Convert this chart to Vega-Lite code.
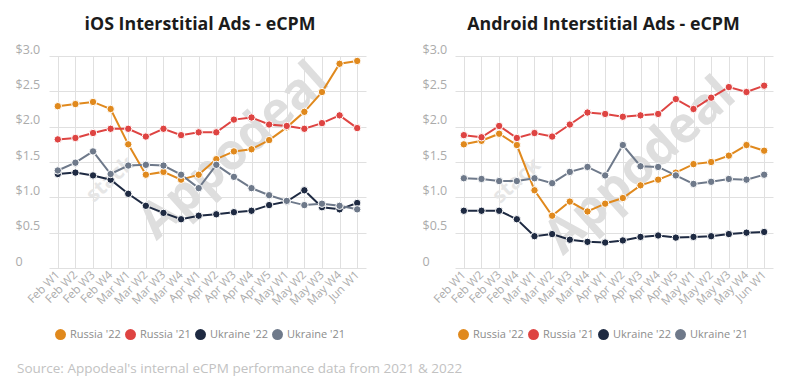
{
  "$schema": "https://vega.github.io/schema/vega-lite/v6.json",
  "background": "white",
  "padding": {"left": 15, "top": 16, "right": 10, "bottom": 6},
  "data": {"values": [
    {"platform":"iOS","series":"Russia '22","week":"Feb W1","value":2.29},
    {"platform":"iOS","series":"Russia '22","week":"Feb W2","value":2.32},
    {"platform":"iOS","series":"Russia '22","week":"Feb W3","value":2.35},
    {"platform":"iOS","series":"Russia '22","week":"Feb W4","value":2.25},
    {"platform":"iOS","series":"Russia '22","week":"Mar W1","value":1.75},
    {"platform":"iOS","series":"Russia '22","week":"Mar W2","value":1.32},
    {"platform":"iOS","series":"Russia '22","week":"Mar W3","value":1.36},
    {"platform":"iOS","series":"Russia '22","week":"Mar W4","value":1.25},
    {"platform":"iOS","series":"Russia '22","week":"Apr W1","value":1.32},
    {"platform":"iOS","series":"Russia '22","week":"Apr W2","value":1.54},
    {"platform":"iOS","series":"Russia '22","week":"Apr W3","value":1.65},
    {"platform":"iOS","series":"Russia '22","week":"Apr W4","value":1.68},
    {"platform":"iOS","series":"Russia '22","week":"Apr W5","value":1.81},
    {"platform":"iOS","series":"Russia '22","week":"May W1","value":1.99},
    {"platform":"iOS","series":"Russia '22","week":"May W2","value":2.21},
    {"platform":"iOS","series":"Russia '22","week":"May W3","value":2.49},
    {"platform":"iOS","series":"Russia '22","week":"May W4","value":2.89},
    {"platform":"iOS","series":"Russia '22","week":"Jun W1","value":2.93},
    {"platform":"iOS","series":"Russia '21","week":"Feb W1","value":1.82},
    {"platform":"iOS","series":"Russia '21","week":"Feb W2","value":1.84},
    {"platform":"iOS","series":"Russia '21","week":"Feb W3","value":1.91},
    {"platform":"iOS","series":"Russia '21","week":"Feb W4","value":1.97},
    {"platform":"iOS","series":"Russia '21","week":"Mar W1","value":1.97},
    {"platform":"iOS","series":"Russia '21","week":"Mar W2","value":1.86},
    {"platform":"iOS","series":"Russia '21","week":"Mar W3","value":1.97},
    {"platform":"iOS","series":"Russia '21","week":"Mar W4","value":1.88},
    {"platform":"iOS","series":"Russia '21","week":"Apr W1","value":1.92},
    {"platform":"iOS","series":"Russia '21","week":"Apr W2","value":1.92},
    {"platform":"iOS","series":"Russia '21","week":"Apr W3","value":2.10},
    {"platform":"iOS","series":"Russia '21","week":"Apr W4","value":2.13},
    {"platform":"iOS","series":"Russia '21","week":"Apr W5","value":2.03},
    {"platform":"iOS","series":"Russia '21","week":"May W1","value":2.01},
    {"platform":"iOS","series":"Russia '21","week":"May W2","value":1.97},
    {"platform":"iOS","series":"Russia '21","week":"May W3","value":2.05},
    {"platform":"iOS","series":"Russia '21","week":"May W4","value":2.16},
    {"platform":"iOS","series":"Russia '21","week":"Jun W1","value":1.98},
    {"platform":"iOS","series":"Ukraine '22","week":"Feb W1","value":1.33},
    {"platform":"iOS","series":"Ukraine '22","week":"Feb W2","value":1.35},
    {"platform":"iOS","series":"Ukraine '22","week":"Feb W3","value":1.31},
    {"platform":"iOS","series":"Ukraine '22","week":"Feb W4","value":1.25},
    {"platform":"iOS","series":"Ukraine '22","week":"Mar W1","value":1.05},
    {"platform":"iOS","series":"Ukraine '22","week":"Mar W2","value":0.88},
    {"platform":"iOS","series":"Ukraine '22","week":"Mar W3","value":0.78},
    {"platform":"iOS","series":"Ukraine '22","week":"Mar W4","value":0.69},
    {"platform":"iOS","series":"Ukraine '22","week":"Apr W1","value":0.74},
    {"platform":"iOS","series":"Ukraine '22","week":"Apr W2","value":0.76},
    {"platform":"iOS","series":"Ukraine '22","week":"Apr W3","value":0.79},
    {"platform":"iOS","series":"Ukraine '22","week":"Apr W4","value":0.81},
    {"platform":"iOS","series":"Ukraine '22","week":"Apr W5","value":0.89},
    {"platform":"iOS","series":"Ukraine '22","week":"May W1","value":0.94},
    {"platform":"iOS","series":"Ukraine '22","week":"May W2","value":1.10},
    {"platform":"iOS","series":"Ukraine '22","week":"May W3","value":0.86},
    {"platform":"iOS","series":"Ukraine '22","week":"May W4","value":0.83},
    {"platform":"iOS","series":"Ukraine '22","week":"Jun W1","value":0.92},
    {"platform":"iOS","series":"Ukraine '21","week":"Feb W1","value":1.38},
    {"platform":"iOS","series":"Ukraine '21","week":"Feb W2","value":1.49},
    {"platform":"iOS","series":"Ukraine '21","week":"Feb W3","value":1.65},
    {"platform":"iOS","series":"Ukraine '21","week":"Feb W4","value":1.33},
    {"platform":"iOS","series":"Ukraine '21","week":"Mar W1","value":1.45},
    {"platform":"iOS","series":"Ukraine '21","week":"Mar W2","value":1.46},
    {"platform":"iOS","series":"Ukraine '21","week":"Mar W3","value":1.45},
    {"platform":"iOS","series":"Ukraine '21","week":"Mar W4","value":1.32},
    {"platform":"iOS","series":"Ukraine '21","week":"Apr W1","value":1.13},
    {"platform":"iOS","series":"Ukraine '21","week":"Apr W2","value":1.46},
    {"platform":"iOS","series":"Ukraine '21","week":"Apr W3","value":1.29},
    {"platform":"iOS","series":"Ukraine '21","week":"Apr W4","value":1.13},
    {"platform":"iOS","series":"Ukraine '21","week":"Apr W5","value":1.03},
    {"platform":"iOS","series":"Ukraine '21","week":"May W1","value":0.95},
    {"platform":"iOS","series":"Ukraine '21","week":"May W2","value":0.89},
    {"platform":"iOS","series":"Ukraine '21","week":"May W3","value":0.91},
    {"platform":"iOS","series":"Ukraine '21","week":"May W4","value":0.88},
    {"platform":"iOS","series":"Ukraine '21","week":"Jun W1","value":0.83},
    {"platform":"Android","series":"Russia '22","week":"Feb W1","value":1.75},
    {"platform":"Android","series":"Russia '22","week":"Feb W2","value":1.80},
    {"platform":"Android","series":"Russia '22","week":"Feb W3","value":1.90},
    {"platform":"Android","series":"Russia '22","week":"Feb W4","value":1.74},
    {"platform":"Android","series":"Russia '22","week":"Mar W1","value":1.10},
    {"platform":"Android","series":"Russia '22","week":"Mar W2","value":0.74},
    {"platform":"Android","series":"Russia '22","week":"Mar W3","value":0.94},
    {"platform":"Android","series":"Russia '22","week":"Mar W4","value":0.80},
    {"platform":"Android","series":"Russia '22","week":"Apr W1","value":0.91},
    {"platform":"Android","series":"Russia '22","week":"Apr W2","value":0.99},
    {"platform":"Android","series":"Russia '22","week":"Apr W3","value":1.17},
    {"platform":"Android","series":"Russia '22","week":"Apr W4","value":1.25},
    {"platform":"Android","series":"Russia '22","week":"Apr W5","value":1.35},
    {"platform":"Android","series":"Russia '22","week":"May W1","value":1.47},
    {"platform":"Android","series":"Russia '22","week":"May W2","value":1.50},
    {"platform":"Android","series":"Russia '22","week":"May W3","value":1.59},
    {"platform":"Android","series":"Russia '22","week":"May W4","value":1.74},
    {"platform":"Android","series":"Russia '22","week":"Jun W1","value":1.66},
    {"platform":"Android","series":"Russia '21","week":"Feb W1","value":1.88},
    {"platform":"Android","series":"Russia '21","week":"Feb W2","value":1.85},
    {"platform":"Android","series":"Russia '21","week":"Feb W3","value":2.01},
    {"platform":"Android","series":"Russia '21","week":"Feb W4","value":1.84},
    {"platform":"Android","series":"Russia '21","week":"Mar W1","value":1.91},
    {"platform":"Android","series":"Russia '21","week":"Mar W2","value":1.86},
    {"platform":"Android","series":"Russia '21","week":"Mar W3","value":2.03},
    {"platform":"Android","series":"Russia '21","week":"Mar W4","value":2.20},
    {"platform":"Android","series":"Russia '21","week":"Apr W1","value":2.18},
    {"platform":"Android","series":"Russia '21","week":"Apr W2","value":2.14},
    {"platform":"Android","series":"Russia '21","week":"Apr W3","value":2.16},
    {"platform":"Android","series":"Russia '21","week":"Apr W4","value":2.18},
    {"platform":"Android","series":"Russia '21","week":"Apr W5","value":2.39},
    {"platform":"Android","series":"Russia '21","week":"May W1","value":2.25},
    {"platform":"Android","series":"Russia '21","week":"May W2","value":2.41},
    {"platform":"Android","series":"Russia '21","week":"May W3","value":2.56},
    {"platform":"Android","series":"Russia '21","week":"May W4","value":2.49},
    {"platform":"Android","series":"Russia '21","week":"Jun W1","value":2.58},
    {"platform":"Android","series":"Ukraine '22","week":"Feb W1","value":0.81},
    {"platform":"Android","series":"Ukraine '22","week":"Feb W2","value":0.81},
    {"platform":"Android","series":"Ukraine '22","week":"Feb W3","value":0.81},
    {"platform":"Android","series":"Ukraine '22","week":"Feb W4","value":0.69},
    {"platform":"Android","series":"Ukraine '22","week":"Mar W1","value":0.45},
    {"platform":"Android","series":"Ukraine '22","week":"Mar W2","value":0.48},
    {"platform":"Android","series":"Ukraine '22","week":"Mar W3","value":0.40},
    {"platform":"Android","series":"Ukraine '22","week":"Mar W4","value":0.37},
    {"platform":"Android","series":"Ukraine '22","week":"Apr W1","value":0.36},
    {"platform":"Android","series":"Ukraine '22","week":"Apr W2","value":0.39},
    {"platform":"Android","series":"Ukraine '22","week":"Apr W3","value":0.44},
    {"platform":"Android","series":"Ukraine '22","week":"Apr W4","value":0.46},
    {"platform":"Android","series":"Ukraine '22","week":"Apr W5","value":0.43},
    {"platform":"Android","series":"Ukraine '22","week":"May W1","value":0.44},
    {"platform":"Android","series":"Ukraine '22","week":"May W2","value":0.45},
    {"platform":"Android","series":"Ukraine '22","week":"May W3","value":0.48},
    {"platform":"Android","series":"Ukraine '22","week":"May W4","value":0.50},
    {"platform":"Android","series":"Ukraine '22","week":"Jun W1","value":0.51},
    {"platform":"Android","series":"Ukraine '21","week":"Feb W1","value":1.27},
    {"platform":"Android","series":"Ukraine '21","week":"Feb W2","value":1.26},
    {"platform":"Android","series":"Ukraine '21","week":"Feb W3","value":1.23},
    {"platform":"Android","series":"Ukraine '21","week":"Feb W4","value":1.23},
    {"platform":"Android","series":"Ukraine '21","week":"Mar W1","value":1.27},
    {"platform":"Android","series":"Ukraine '21","week":"Mar W2","value":1.20},
    {"platform":"Android","series":"Ukraine '21","week":"Mar W3","value":1.36},
    {"platform":"Android","series":"Ukraine '21","week":"Mar W4","value":1.43},
    {"platform":"Android","series":"Ukraine '21","week":"Apr W1","value":1.31},
    {"platform":"Android","series":"Ukraine '21","week":"Apr W2","value":1.74},
    {"platform":"Android","series":"Ukraine '21","week":"Apr W3","value":1.44},
    {"platform":"Android","series":"Ukraine '21","week":"Apr W4","value":1.43},
    {"platform":"Android","series":"Ukraine '21","week":"Apr W5","value":1.31},
    {"platform":"Android","series":"Ukraine '21","week":"May W1","value":1.19},
    {"platform":"Android","series":"Ukraine '21","week":"May W2","value":1.22},
    {"platform":"Android","series":"Ukraine '21","week":"May W3","value":1.26},
    {"platform":"Android","series":"Ukraine '21","week":"May W4","value":1.25},
    {"platform":"Android","series":"Ukraine '21","week":"Jun W1","value":1.32}
  ]},
  "title": {
    "text": "Source: Appodeal's internal eCPM performance data from 2021 & 2022",
    "orient": "bottom", "anchor": "start", "frame": "bounds",
    "fontSize": 13.5, "fontWeight": "normal", "color": "#c2c2c2", "offset": 22, "dx": 2
  },
  "spacing": 47,
  "resolve": {"scale": {"color": "independent"}, "legend": {"color": "independent"}},
  "hconcat": [
    {
      "width": 360, "height": 212,
      "title": {"text": "iOS Interstitial Ads - eCPM", "frame": "group", "dx": 5},
      "encoding": {
        "x": {"field": "week", "type": "ordinal",
          "scale": {"type": "point", "domain": ["Feb W1","Feb W2","Feb W3","Feb W4","Mar W1","Mar W2","Mar W3","Mar W4","Apr W1","Apr W2","Apr W3","Apr W4","Apr W5","May W1","May W2","May W3","May W4","Jun W1"], "range": [34, 351]},
          "axis": {"title": null, "grid": true, "labelAngle": -45, "labelAlign": "right", "labelBaseline": "middle", "labelPadding": 5}},
        "y": {"field": "value", "type": "quantitative",
          "scale": {"domain": [0, 3], "nice": false},
          "axis": {"title": null, "grid": true, "values": [0, 0.5, 1, 1.5, 2, 2.5, 3], "labelExpr": "datum.value == 0 ? '0' : '$' + format(datum.value, '.1f')", "labelAlign": "left", "labelBaseline": "alphabetic", "labelOffset": -3, "labelPadding": 0, "minExtent": 0}}
      },
      "layer": [
        {"transform": [{"filter": "datum.platform == 'iOS' && datum.series == \"Russia '22\" && datum.week == 'Apr W3'"}],
         "mark": {"type": "text", "text": "Appodeal", "angle": -42, "fontSize": 50, "fontWeight": "bold", "fill": "#dedede", "align": "center", "baseline": "middle"}},
        {"transform": [{"filter": "datum.platform == 'iOS' && datum.series == \"Ukraine '22\" && datum.week == 'Feb W4'"}],
         "mark": {"type": "text", "text": "stack", "angle": -42, "fontSize": 21, "fontWeight": "bold", "fill": "#e6e6e6", "align": "center", "baseline": "middle"}},
        {"transform": [{"filter": "datum.platform == 'iOS'"}],
         "mark": {"type": "line", "strokeWidth": 2},
         "encoding": {"color": {"field": "series", "type": "nominal",
          "scale": {"domain": ["Russia '22","Russia '21","Ukraine '22","Ukraine '21"], "range": ["#E0891D","#DE4442","#1E2A42","#6E798A"]},
          "legend": {"orient": "none", "legendX": 40, "legendY": 273, "direction": "horizontal", "title": null, "symbolType": "circle", "symbolSize": 120, "symbolStrokeWidth": 0, "labelFontSize": 11, "labelColor": "#8c8c8c", "columnPadding": 4, "labelOffset": 4}}}},
        {"transform": [{"filter": "datum.platform == 'iOS'"}],
         "mark": {"type": "point", "filled": true, "size": 55, "opacity": 1, "stroke": "white", "strokeWidth": 1},
         "encoding": {"color": {"field": "series", "type": "nominal"}}}
      ]
    },
    {
      "width": 361, "height": 212,
      "title": {"text": "Android Interstitial Ads - eCPM", "frame": "group", "dx": 1},
      "encoding": {
        "x": {"field": "week", "type": "ordinal",
          "scale": {"type": "point", "domain": ["Feb W1","Feb W2","Feb W3","Feb W4","Mar W1","Mar W2","Mar W3","Mar W4","Apr W1","Apr W2","Apr W3","Apr W4","Apr W5","May W1","May W2","May W3","May W4","Jun W1"], "range": [33, 351]},
          "axis": {"title": null, "grid": true, "labelAngle": -45, "labelAlign": "right", "labelBaseline": "middle", "labelPadding": 5}},
        "y": {"field": "value", "type": "quantitative",
          "scale": {"domain": [0, 3], "nice": false},
          "axis": {"title": null, "grid": true, "values": [0, 0.5, 1, 1.5, 2, 2.5, 3], "labelExpr": "datum.value == 0 ? '0' : '$' + format(datum.value, '.1f')", "labelAlign": "left", "labelBaseline": "alphabetic", "labelOffset": -3, "labelPadding": 0, "minExtent": 0}}
      },
      "layer": [
        {"transform": [{"filter": "datum.platform == 'Android' && datum.series == \"Ukraine '21\" && datum.week == 'Apr W3'"}],
         "mark": {"type": "text", "text": "Appodeal", "angle": -42, "fontSize": 50, "fontWeight": "bold", "fill": "#dedede", "align": "center", "baseline": "middle"}},
        {"transform": [{"filter": "datum.platform == 'Android' && datum.series == \"Ukraine '21\" && datum.week == 'Feb W4'"}],
         "mark": {"type": "text", "text": "stack", "angle": -42, "fontSize": 21, "fontWeight": "bold", "fill": "#e6e6e6", "align": "center", "baseline": "middle"}},
        {"transform": [{"filter": "datum.platform == 'Android'"}],
         "mark": {"type": "line", "strokeWidth": 2},
         "encoding": {"color": {"field": "series", "type": "nominal",
          "scale": {"domain": ["Russia '22","Russia '21","Ukraine '22","Ukraine '21"], "range": ["#E0891D","#DE4442","#1E2A42","#6E798A"]},
          "legend": {"orient": "none", "legendX": 36, "legendY": 273, "direction": "horizontal", "title": null, "symbolType": "circle", "symbolSize": 120, "symbolStrokeWidth": 0, "labelFontSize": 11, "labelColor": "#8c8c8c", "columnPadding": 4, "labelOffset": 4}}}},
        {"transform": [{"filter": "datum.platform == 'Android'"}],
         "mark": {"type": "point", "filled": true, "size": 55, "opacity": 1, "stroke": "white", "strokeWidth": 1},
         "encoding": {"color": {"field": "series", "type": "nominal"}}}
      ]
    }
  ],
  "config": {
    "font": "Open Sans",
    "view": {"stroke": null},
    "title": {"fontSize": 17.8, "fontWeight": "bold", "color": "#1b1b1b", "offset": 9},
    "axis": {"domain": false, "ticks": false, "gridColor": "#e0e0e0", "labelColor": "#ababab", "labelFontSize": 11.5},
    "axisY": {"labelFontSize": 12.5}
  }
}
